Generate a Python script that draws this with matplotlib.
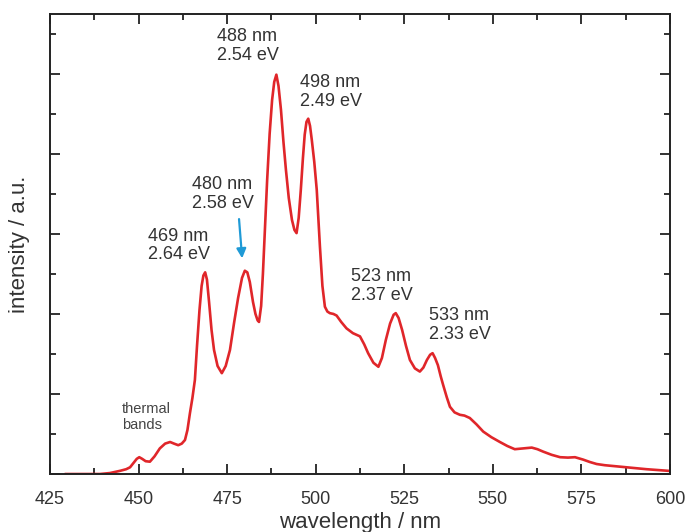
import matplotlib
matplotlib.use('Agg')
import matplotlib.pyplot as plt
from matplotlib.ticker import MultipleLocator, NullFormatter

plt.rcParams['font.family'] = ['Liberation Sans', 'DejaVu Sans']

# spectrum (wavelength nm, intensity a.u.)
wl = [429.5, 435.0, 439.1, 441.9, 444.8, 446.5, 447.6, 448.8, 449.5, 450.2,
      451.0, 452.0, 453.2, 454.5, 456.0, 457.5, 458.9, 460.0, 461.2, 462.2,
      463.1, 463.8, 464.5, 465.2, 465.9, 466.5, 467.2, 467.8, 468.3, 468.8,
      469.3, 469.9, 470.6, 471.3, 472.3, 473.5, 474.6, 475.8, 477.0, 478.1,
      479.2, 480.0, 480.7, 481.4, 482.3, 483.0, 483.6, 484.0, 484.6, 485.1,
      485.7, 486.3, 487.0, 487.7, 488.3, 488.9, 489.5, 490.2, 490.9, 491.6,
      492.4, 493.3, 494.0, 494.6, 495.2, 495.8, 496.4, 496.9, 497.4, 497.9,
      498.4, 498.9, 499.6, 500.3, 501.2, 501.9, 502.6, 503.3, 504.0, 505.0,
      505.9, 507.2, 508.7, 510.5, 512.5, 513.7, 514.8, 516.3, 517.7, 518.7,
      519.8, 521.0, 522.0, 522.6, 523.4, 524.4, 525.5, 526.6, 528.0, 529.4,
      530.4, 531.4, 532.3, 533.0, 533.7, 534.5, 535.3, 536.0, 537.0, 537.9,
      539.2, 540.7, 542.0, 543.5, 545.4, 547.3, 549.6, 552.0, 554.1, 556.2,
      558.6, 561.0, 562.6, 564.2, 566.6, 569.0, 571.2, 573.2, 575.5, 577.4,
      579.3, 581.6, 584.0, 587.8, 590.6, 593.4, 596.5, 599.5]
inten = [0.0, 0.0, 0.0, 0.012, 0.04, 0.06, 0.084, 0.15, 0.19, 0.21,
         0.19, 0.16, 0.154, 0.22, 0.32, 0.38, 0.40, 0.38, 0.36, 0.38,
         0.425, 0.55, 0.76, 0.95, 1.175, 1.6, 2.05, 2.35, 2.48, 2.52,
         2.43, 2.15, 1.8, 1.55, 1.35, 1.26, 1.35, 1.55, 1.9, 2.2,
         2.45, 2.54, 2.52, 2.4, 2.15, 2.0, 1.92, 1.9, 2.1, 2.5,
         3.1, 3.675, 4.25, 4.675, 4.9, 4.99, 4.85, 4.55, 4.15, 3.8,
         3.45, 3.175, 3.05, 3.01, 3.2, 3.55, 3.95, 4.24, 4.4, 4.44,
         4.35, 4.175, 3.9, 3.55, 2.84, 2.35, 2.09, 2.03, 2.01, 2.0,
         1.98, 1.9, 1.82, 1.76, 1.72, 1.62, 1.51, 1.39, 1.34, 1.45,
         1.675, 1.88, 1.99, 2.01, 1.95, 1.8, 1.6, 1.425, 1.32, 1.28,
         1.33, 1.425, 1.49, 1.51, 1.45, 1.36, 1.22, 1.11, 0.96, 0.84,
         0.77, 0.74, 0.73, 0.70, 0.62, 0.53, 0.46, 0.40, 0.35, 0.31,
         0.32, 0.33, 0.31, 0.28, 0.24, 0.21, 0.205, 0.21, 0.18, 0.15,
         0.125, 0.11, 0.10, 0.084, 0.072, 0.06, 0.05, 0.04]

labels = ['488 nm\n2.54 eV', '498 nm\n2.49 eV', '480 nm\n2.58 eV',
          '469 nm\n2.64 eV', '523 nm\n2.37 eV', '533 nm\n2.33 eV']
label_x = [472.1, 495.6, 465.0, 452.7, 509.9, 532.0]
label_y = [5.575, 5.0, 3.72, 3.08, 2.57, 2.09]

fig = plt.figure(figsize=(6.85, 5.32), dpi=100)
ax = fig.add_axes([0.073, 0.109, 0.905, 0.865])

ax.plot(wl, inten, color='#e0262a', lw=1.9, solid_joinstyle='round')

for t, x, y in zip(labels, label_x, label_y):
    ax.text(x, y, t, fontsize=13, color='#333333', ha='left', va='top',
            linespacing=1.15)
ax.text(445.2, 0.9, 'thermal\nbands', fontsize=10.5, color='#444444',
        ha='left', va='top', linespacing=1.2)

ax.annotate('', xy=(479.3, 2.66), xytext=(478.3, 3.22),
            arrowprops=dict(arrowstyle='-|>', color='#1f9ad6', lw=1.6,
                            mutation_scale=14))

ax.set_xlim(425, 600)
ax.set_ylim(0, 5.75)
ax.xaxis.set_major_locator(MultipleLocator(25))
ax.xaxis.set_minor_locator(MultipleLocator(12.5))
ax.yaxis.set_major_locator(MultipleLocator(1))
ax.yaxis.set_minor_locator(MultipleLocator(0.5))
ax.yaxis.set_major_formatter(NullFormatter())
ax.tick_params(which='both', direction='in', top=True, right=True,
               color='#222222', width=1.3, labelsize=13, labelcolor='#333333')
ax.tick_params(which='major', length=7)
ax.tick_params(which='minor', length=4)
ax.tick_params(axis='x', pad=12)
for s in ax.spines.values():
    s.set_linewidth(1.4)
    s.set_color('#222222')

ax.set_xlabel('wavelength / nm', fontsize=16, color='#333333', labelpad=3)
ax.set_ylabel('intensity / a.u.', fontsize=16, color='#333333', labelpad=11)

fig.savefig('out.png', dpi=100)
